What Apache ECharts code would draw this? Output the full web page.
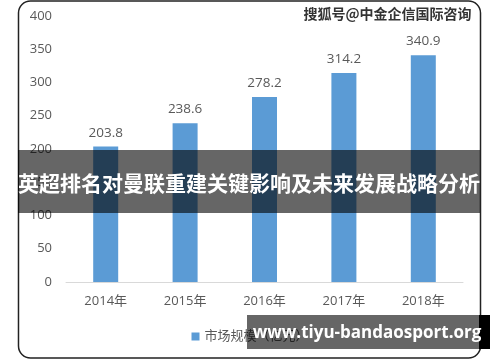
<!DOCTYPE html>
<html><head><meta charset="utf-8">
<script src="https://cdn.jsdelivr.net/npm/echarts@6/dist/echarts.min.js"></script>
<style>html,body{margin:0;padding:0;background:#fff}#c{width:500px;height:362px}</style>
</head><body><div id="c"></div>
<script>
const categories = ['2014年','2015年','2016年','2017年','2018年'];
const marketSize = [203.8, 238.6, 278.2, 314.2, 340.9];
const seriesName = '市场规模（亿元）';
const yTicks = {min: 0, max: 400, interval: 50};
const bannerTitle = '英超排名对曼联重建关键影响及未来发展战略分析';
const topMark = '搜狐号@中金企信国际咨询';
const bottomMark = 'www.tiyu-bandaosport.org';

const chart = echarts.init(document.getElementById('c'), null, {renderer: 'canvas'});
const font = "'Open Sans','Noto Sans CJK SC',sans-serif";
chart.setOption({
  animation: false,
  textStyle: {fontFamily: font},
  grid: {left: 66, right: 37, top: 16, bottom: 80},
  legend: {
    data: [seriesName], bottom: 14, left: 'center',
    itemWidth: 8, itemHeight: 8, icon: 'rect',
    textStyle: {color: '#595959', fontSize: 13, fontFamily: font}
  },
  xAxis: {
    type: 'category', data: categories,
    axisLine: {lineStyle: {color: '#d9d9d9'}},
    axisTick: {show: false},
    axisLabel: {color: '#595959', fontSize: 13, margin: 13}
  },
  yAxis: {
    type: 'value', min: yTicks.min, max: yTicks.max, interval: yTicks.interval,
    splitLine: {show: false},
    axisLabel: {color: '#595959', fontSize: 13, margin: 14}
  },
  series: [{
    name: seriesName, type: 'bar', data: marketSize, barWidth: 25,
    itemStyle: {color: '#5b9bd5'},
    label: {show: true, position: 'top', distance: 7, color: '#595959', fontSize: 13.5}
  }],
  graphic: [
    {type: 'rect', z: 50, shape: {x: 18.5, y: 1, width: 462, height: 357, r: 12},
     style: {fill: 'none', stroke: '#222', lineWidth: 1.5}},
    {type: 'text', z: 60, left: 303, top: 6,
     style: {text: topMark, fill: '#333', font: "bold 14px 'Noto Sans CJK SC'", stroke: '#fff', lineWidth: 1}},
    {type: 'rect', z: 100, shape: {x: 18, y: 150, width: 462, height: 63},
     style: {fill: 'rgba(0,0,0,0.6)'}},
    {type: 'text', z: 101, x: 249, y: 183,
     style: {text: bannerTitle, fill: '#fff', font: "bold 21px 'Noto Sans CJK SC'", textAlign: 'center', textVerticalAlign: 'middle'}},
    {type: 'rect', z: 100, shape: {x: 247, y: 315, width: 232, height: 34},
     style: {fill: 'rgba(0,0,0,0.6)'}},
    {type: 'rect', z: 100, shape: {x: 479, y: 315, width: 11, height: 34},
     style: {fill: '#000'}},
    {type: 'text', z: 101, x: 367, y: 333,
     style: {text: bottomMark, fill: '#fff', font: "bold 17px 'Open Sans'", textAlign: 'center', textVerticalAlign: 'middle'}}
  ]
});
</script></body></html>
